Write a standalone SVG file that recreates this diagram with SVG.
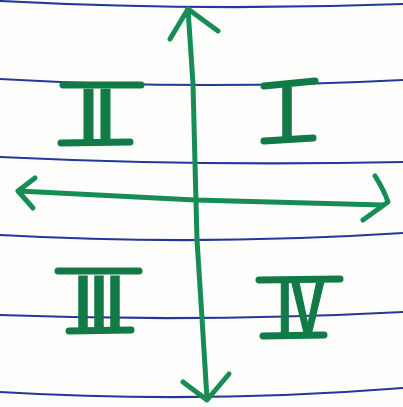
<svg xmlns="http://www.w3.org/2000/svg" width="403" height="407" viewBox="0 0 403 407">
<style>
.rule{fill:none;stroke:#25389a;stroke-width:2.2}
.axis{fill:none;stroke:#178c55;stroke-width:5;stroke-linecap:round;stroke-linejoin:round}
.num{font-family:"Liberation Sans",Arial,sans-serif;font-weight:bold;fill:#117a46;stroke:#117a46;stroke-width:1.5;text-anchor:middle}
.bar{stroke:#117a46;stroke-width:7;stroke-linecap:round}
</style>
<rect width="403" height="407" fill="#fdfdfc"/>
<g id="paper-lines">
<path class="rule" d="M0,1 Q200,11.5 403,4"/>
<path class="rule" d="M0,79 Q200,90.5 403,80"/>
<path class="rule" d="M0,157 Q200,166.5 403,162"/>
<path class="rule" d="M0,235 Q200,246 403,233"/>
<path class="rule" d="M0,315 Q200,322.5 403,312"/>
<path class="rule" d="M0,392 Q200,404 403,388"/>
</g>
<g id="connectors">
<path class="axis" d="M188,9 L193,84 L195,163 L197,240 L202,318 L207,399"/>
<path class="axis" d="M170,39 L188,9 L218,31"/>
<path class="axis" d="M183,382 L207,400 L229,374"/>
<path class="axis" d="M19,191 L195,200 L383,205"/>
<path class="axis" d="M35,178 L18,191 L33,208"/>
<path class="axis" d="M375,176 Q384,190 388,202 L363,220"/>
</g>
<g id="quadrant-II">
<text class="num" x="97" y="142" font-size="76" textLength="34" lengthAdjust="spacingAndGlyphs">II</text>
<line class="bar" x1="63" y1="85" x2="141" y2="85"/>
<line class="bar" x1="61" y1="143" x2="130" y2="142"/>
</g>
<g id="quadrant-I">
<text class="num" x="287" y="139" font-size="74" textLength="16" lengthAdjust="spacingAndGlyphs">I</text>
<line class="bar" x1="264" y1="86" x2="315" y2="81"/>
<line class="bar" x1="264" y1="141" x2="313" y2="138"/>
</g>
<g id="quadrant-III">
<text class="num" x="99" y="330" font-size="78" textLength="48" lengthAdjust="spacingAndGlyphs">III</text>
<line class="bar" x1="58" y1="271" x2="139" y2="271"/>
<line class="bar" x1="69" y1="331" x2="131" y2="330"/>
</g>
<g id="quadrant-IV">
<text class="num" x="301" y="334" font-size="74" textLength="46" lengthAdjust="spacingAndGlyphs">IV</text>
<line class="bar" x1="259" y1="280" x2="340" y2="279"/>
<line class="bar" x1="263" y1="336" x2="324" y2="335"/>
</g>
</svg>
